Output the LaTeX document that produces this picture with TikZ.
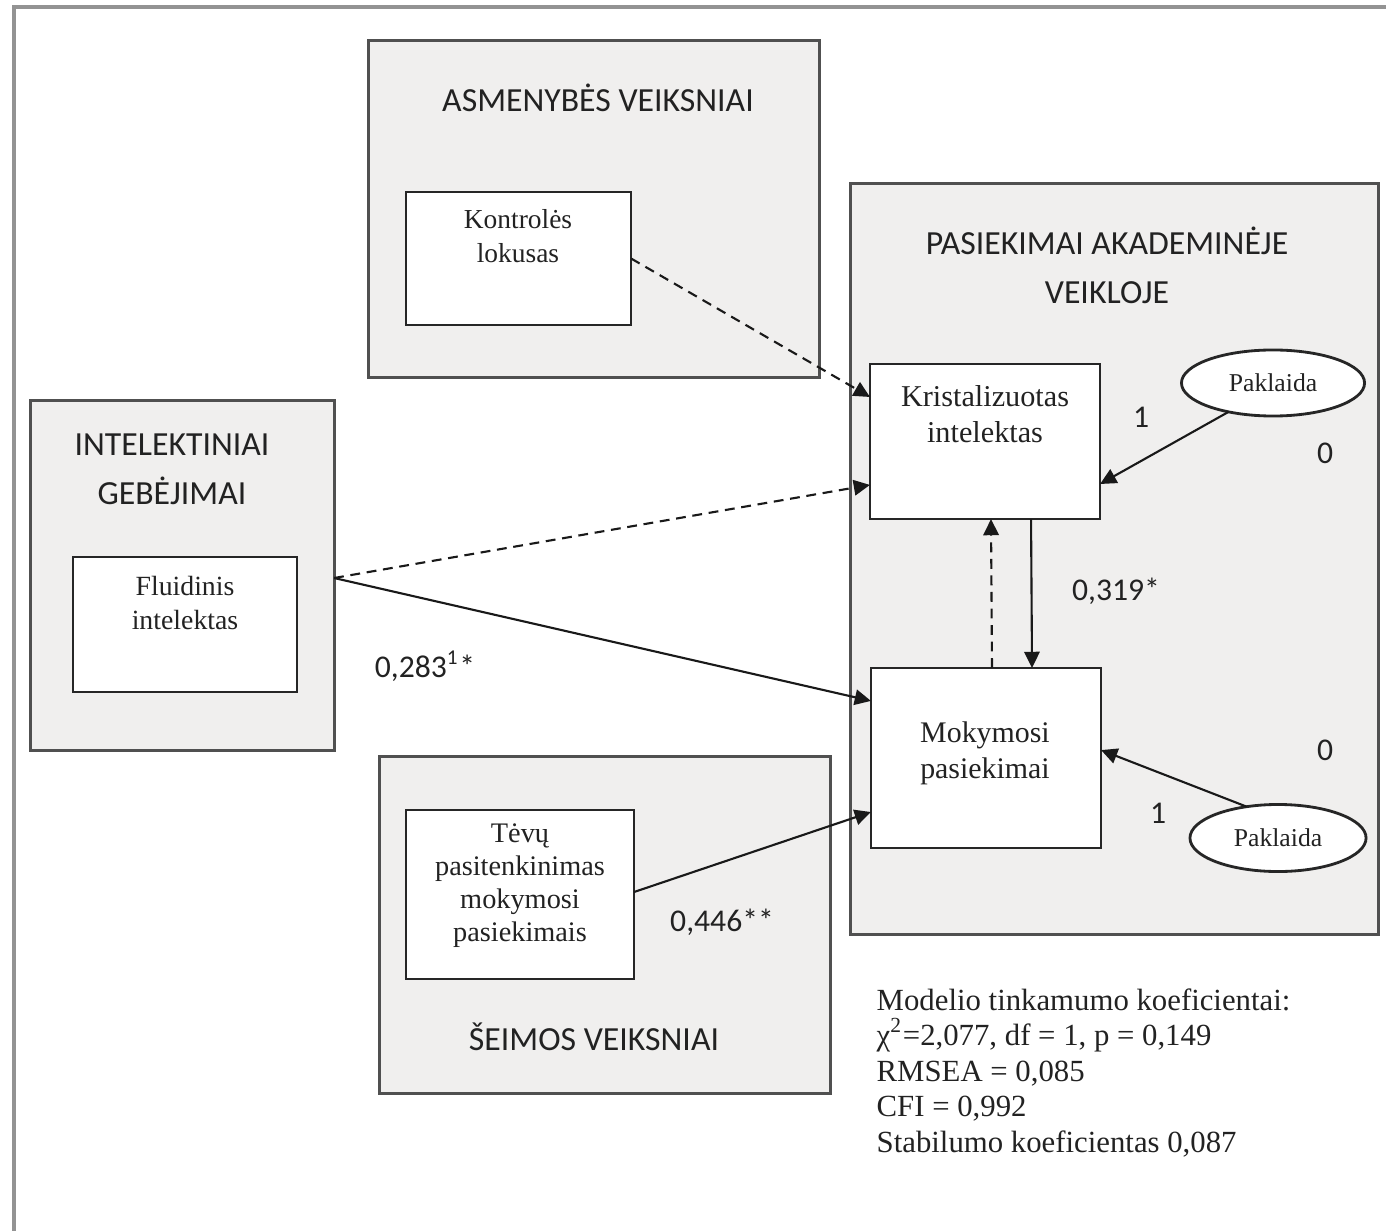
\documentclass[tikz,border=0pt]{standalone}
\usepackage{fontspec}
\setmainfont{Liberation Serif}
\newfontfamily\carl{Carlito}
\usetikzlibrary{arrows.meta,calc,shapes.geometric}
\definecolor{grpfill}{HTML}{F0EFEE}
\definecolor{grpline}{HTML}{505050}
\definecolor{txt}{HTML}{222222}
\tikzset{
  grp/.style={draw=grpline, line width=0.9pt, fill=grpfill, inner sep=0pt, outer sep=0pt},
  inbox/.style={draw=black!85, line width=0.8pt, fill=white, inner sep=0pt, outer sep=0pt},
  errell/.style={ellipse, draw=black!85, line width=0.8pt, fill=white, inner sep=0pt, outer sep=0pt},
  ttl/.style={font=\carl\fontsize{9.6}{13.6}\selectfont, text=txt, align=center, inner sep=0pt},
  lbl/.style={font=\fontsize{8.6}{10.4}\selectfont, text=txt, align=center, inner sep=0pt},
  num/.style={font=\carl\fontsize{9}{11}\selectfont, text=txt, inner sep=0pt},
  tip/.style={-{Triangle[length=4.6pt,width=4.4pt]}},
  conn/.style={tip, line width=0.6pt, draw=black!90},
  dconn/.style={conn, dash pattern=on 2.8pt off 1.9pt},
}
\begin{document}
\begin{tikzpicture}[x=0.01cm,y=-0.01cm]
\useasboundingbox (0,0) rectangle (1386,1231);
% outer frame (only top and left edges visible)
\coordinate (fTL) at (14,7);
\coordinate (fTR) at (1386,7);
\coordinate (fBL) at (14,1231);
\draw[line width=0.9pt, draw=gray!85] (fTR) -- (fTL) -- (fBL);

% group boxes
\node[grp, minimum width=4.50cm, minimum height=3.36cm] (asm) at (594,209) {};
\node[grp, minimum width=5.27cm, minimum height=7.50cm] (pas) at (1114.5,559) {};
\node[grp, minimum width=3.03cm, minimum height=3.49cm] (int) at (182.5,575.5) {};
\node[grp, minimum width=4.50cm, minimum height=3.36cm] (sei) at (605,925) {};

% titles
\node[ttl] (asmT) at (598,98) {ASMENYBĖS VEIKSNIAI};
\node[ttl] (pasT) at (1107,265) {PASIEKIMAI AKADEMINĖJE\\[0.3pt]VEIKLOJE};
\node[ttl] (intT) at (172,469) {INTELEKTINIAI\\[0.3pt]GEBĖJIMAI};
\node[ttl] (seiT) at (594,1037) {ŠEIMOS VEIKSNIAI};

% inner boxes
\node[inbox, minimum width=2.25cm, minimum height=1.33cm] (kont) at (518.5,258.5) {};
\node[inbox, minimum width=2.30cm, minimum height=1.55cm] (krist) at (985,441.5) {};
\node[inbox, minimum width=2.30cm, minimum height=1.80cm] (mok) at (986,758) {};
\node[inbox, minimum width=2.24cm, minimum height=1.35cm] (flu) at (185,624.5) {};
\node[inbox, minimum width=2.28cm, minimum height=1.69cm] (tev) at (520,894.5) {};

% inner labels
\node[lbl, font=\fontsize{7.8}{9.7}\selectfont] (kontL) at (518,236) {Kontrolės\\lokusas};
\node[lbl] (kristL) at (985,414) {Kristalizuotas\\intelektas};
\node[lbl, font=\fontsize{8.5}{10.2}\selectfont] (mokL) at (985,753) {Mokymosi\\pasiekimai};
\node[lbl, font=\fontsize{7.9}{9.7}\selectfont] (fluL) at (185,603) {Fluidinis\\intelektas};
\node[lbl, font=\fontsize{8.05}{9.4}\selectfont] (tevL) at (520,886) {Tėvų\\pasitenkinimas\\mokymosi\\pasiekimais};

% error terms
\node[errell, minimum width=1.83cm, minimum height=0.66cm] (pak1) at (1273,383) {};
\node[lbl, font=\fontsize{7.3}{9}\selectfont] (pak1L) at (1273,383) {Paklaida};
\node[errell, minimum width=1.76cm, minimum height=0.67cm] (pak2) at (1278,838) {};
\node[lbl, font=\fontsize{7.3}{9}\selectfont] (pak2L) at (1278,838) {Paklaida};

% numbers
\node[num] (n1a) at (1141,417) {1};
\node[num] (n0a) at (1325,453) {0};
\node[num] (n0b) at (1325,750) {0};
\node[num] (n1b) at (1158,813) {1};
\node[num] (c319) at (1116,591) {0,319*};
\node[num] (c283) at (425,666) {0,283\textsuperscript{1}*};
\node[num] (c446) at (722,922) {0,446**};

% connectors
\draw[dconn] (kont.east) -- ($(krist.north west)!0.213!(krist.south west)$);
\draw[dconn] ($(int.east)+(0,2.5)$) -- ($(krist.north west)!0.78!(krist.south west)$);
\draw[conn] ($(int.east)+(0,2.5)$) -- ($(mok.north west)!0.183!(mok.south west)$);
\draw[conn] ($(tev.east)+(0,-2.5)$) -- ($(mok.north west)!0.80!(mok.south west)$);
\draw[conn] ($(krist.south west)!0.70!(krist.south east)$) -- ($(mok.north west)!0.70!(mok.north east)$);
\draw[dconn] ($(mok.north west)!0.526!(mok.north east)$) -- ($(krist.south west)!0.526!(krist.south east)$);
\draw[conn] (pak1.213) -- ($(krist.north east)!0.774!(krist.south east)$);
\draw[conn] (pak2.135) -- ($(mok.north east)!0.456!(mok.south east)$);

% fit indices
\node[anchor=north west, align=left, inner sep=0pt, text=txt, font=\fontsize{8.75}{10.1}\selectfont] (fit) at (876,988) {Modelio tinkamumo koeficientai:\\
χ\textsuperscript{2}=2,077, df = 1, p = 0,149\\
RMSEA = 0,085\\
CFI = 0,992\\
Stabilumo koeficientas 0,087};
\end{tikzpicture}
\end{document}
